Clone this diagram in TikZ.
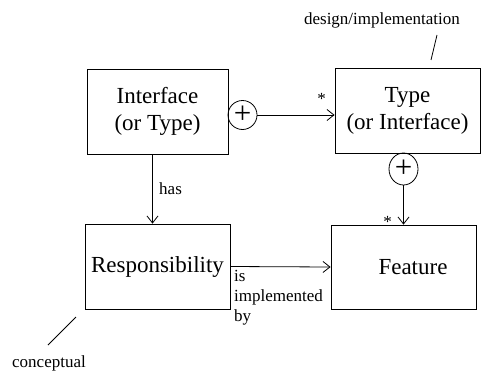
\documentclass[tikz,border=0pt]{standalone}
\usepackage{fontspec}
\setmainfont{Liberation Serif}
\usetikzlibrary{arrows.meta,shapes.geometric}

\begin{document}
\begin{tikzpicture}[x=1pt,y=-1pt,line width=.8pt,>={Straight Barb[length=7pt,width=11pt]},
  box/.style={draw,minimum width=145pt,minimum height=85pt,align=center,font=\fontsize{23}{27}\selectfont},
  plus/.style={draw,ellipse,inner sep=0pt,minimum width=29pt,minimum height=29pt,font=\fontsize{31}{31}\selectfont},
  lab/.style={font=\fontsize{17}{20}\selectfont}]
\useasboundingbox (0,0) rectangle (497,372);
% classes
\node[box,minimum width=141pt] (iface) at (157.5,111.5) {Interface\\(or Type)};
\node[box] (type) at (407.5,110.5) {Type\\(or Interface)};
\node[box] (resp) at (157.5,266.5) {Responsibility};
\node[box,minimum height=84pt] (feat) at (403.5,267) {\hspace*{19pt}Feature};
\node[plus] (plusA) at (242.5,115) {+};
\node[plus,minimum height=32pt] (plusB) at (403.5,169) {+};
% associations
\draw[->] (plusA.east) -- node[pos=1,lab,xshift=-13pt,yshift=16pt]{*} (plusA.east -| type.west);
\draw[->] (plusB.south) -- node[pos=1,lab,xshift=-16pt,yshift=3pt]{*} (feat.north);
\draw[->] ([xshift=-5pt]iface.south) -- node[right,lab,xshift=3pt]{has} ([xshift=-5pt]resp.north);
\draw[->] (resp.east) -- node[pos=0,anchor=north west,align=left,lab]{is\\implemented\\by} (feat.west);
% levels
\node[lab] (design) at (382,20) {design/implementation};
\coordinate (d1) at (437,35);
\coordinate (d2) at (431,60);
\draw (d1) -- (d2);
\node[lab] (concept) at (49,363) {conceptual};
\coordinate (c1) at (76,317);
\coordinate (c2) at (48,345);
\draw (c1) -- (c2);
\end{tikzpicture}
\end{document}
